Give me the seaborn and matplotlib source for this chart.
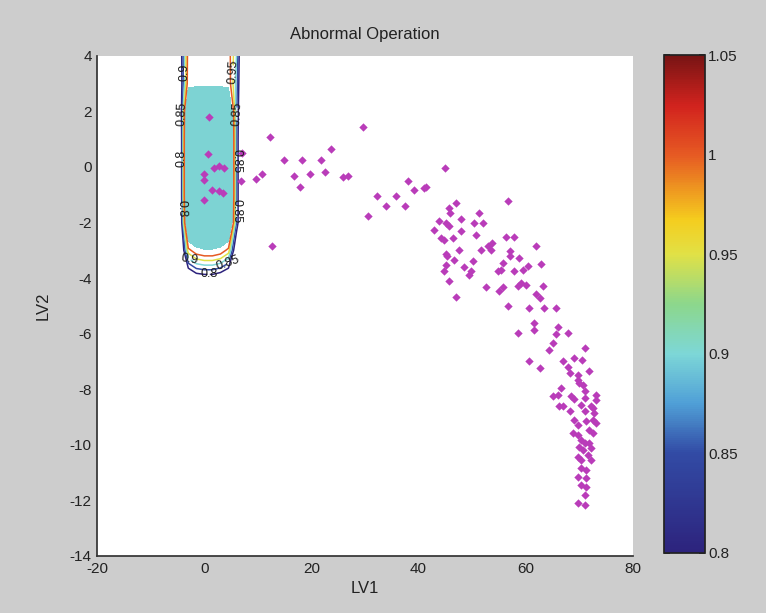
import numpy as np
import pandas as pd
import matplotlib
matplotlib.use("Agg")
import matplotlib.pyplot as plt
import seaborn as sns
from matplotlib.colors import LinearSegmentedColormap, Normalize
from matplotlib.cm import ScalarMappable

# --- data ---
# abnormal operation scores (LV1, LV2)
lv1 = [0.9, 0.6, 1.8, 3.7, 2.7, 0.0, 0.0, 1.5, 2.7, 3.4, 0.0,
       7.1, 6.8, 12.3, 9.6, 10.7, 12.7,
       14.9, 18.3, 16.8, 19.7, 17.9, 21.8, 23.6, 22.5, 25.8, 26.9, 29.7,
       30.5, 32.2, 33.9, 35.8, 37.5, 38.0, 39.1, 41.0, 41.4, 45.0,
       47.0, 56.8, 45.7, 45.9, 51.3, 43.9, 45.1, 47.9, 50.4, 52.0, 45.7, 42.9,
       47.9, 50.7, 44.2, 44.8, 46.4, 56.3, 57.8, 53.8, 61.9, 52.9, 53.5, 51.7,
       47.6, 45.1, 45.4, 57.0, 57.0, 58.8, 46.7, 48.5, 50.1, 45.1, 55.7, 60.4,
       62.9, 49.8, 54.8, 55.4, 57.9, 59.5, 49.5, 44.8, 45.7, 59.1, 58.5, 60.1,
       52.6, 55.7, 55.1, 61.9, 62.6, 47.0, 56.8, 60.7, 63.5,
       63.2, 65.7, 61.6, 61.5, 58.5, 66.0, 65.7, 67.9, 65.1, 64.4, 71.0, 60.7,
       62.7, 66.9, 69.1, 70.5, 67.9, 68.2, 69.7, 69.8, 71.9, 70.7, 66.6, 71.0,
       65.1, 66.0, 68.5, 69.1, 73.2, 73.2, 66.3, 70.4, 72.2,
       70.0, 71.0, 66.9, 68.2, 71.0, 72.5, 72.8, 69.1, 69.7, 71.3, 72.5, 73.2,
       68.8, 69.7, 71.9, 72.5, 70.4, 71.0, 70.0, 70.7, 71.9, 72.2, 69.7, 70.4,
       71.6, 72.2, 70.4, 71.3, 69.7, 71.3, 70.4, 71.3, 71.0, 69.7, 71.0]
lv2 = [1.8, 0.45, -0.05, -0.05, 0.02, -0.25, -0.46, -0.82, -0.88, -0.92, -1.18,
       0.5, -0.52, 1.07, -0.43, -0.25, -2.86,
       0.26, 0.26, -0.32, -0.25, -0.73, 0.26, 0.64, -0.2, -0.37, -0.32, 1.43,
       -1.78, -1.06, -1.42, -1.06, -1.42, -0.52, -0.82, -0.76, -0.73, -0.04,
       -1.28, -1.21, -1.48, -1.66, -1.66, -1.96, -2.02, -1.88, -2.02, -2.02, -2.14, -2.26,
       -2.32, -2.44, -2.56, -2.62, -2.56, -2.53, -2.53, -2.74, -2.84, -2.86, -2.98, -3.0,
       -2.98, -3.13, -3.22, -3.04, -3.22, -3.28, -3.34, -3.61, -3.4, -3.53, -3.46, -3.58,
       -3.48, -3.76, -3.76, -3.70, -3.76, -3.70, -3.88, -3.76, -4.12, -4.18, -4.3, -4.24,
       -4.33, -4.33, -4.48, -4.57, -4.72, -4.69, -5.0, -5.08, -5.08,
       -4.3, -5.08, -5.6, -5.86, -5.96, -5.77, -6.0, -5.98, -6.34, -6.58, -6.52, -7.0,
       -7.24, -6.97, -6.88, -6.94, -7.21, -7.42, -7.48, -7.66, -7.36, -7.84, -7.96, -8.08,
       -8.26, -8.2, -8.26, -8.36, -8.2, -8.38, -8.6, -8.56, -8.62,
       -7.76, -8.32, -8.62, -8.8, -8.8, -8.68, -8.86, -9.1, -9.28, -9.16, -9.1, -9.22,
       -9.58, -9.64, -9.46, -9.58, -9.82, -9.94, -10.06, -10.18, -9.94, -10.12, -10.42, -10.54,
       -10.36, -10.54, -10.84, -10.9, -11.14, -11.2, -11.44, -11.5, -11.8, -12.1, -12.16]

# normal-operation region: coarse grid of contour values
grid_x = [-6, -4.5, -3, -1.5, 0, 1.5, 3, 4.5, 6, 7.5]
grid_y = [-5, -4, -3, -2, -1, 0, 1, 2, 3, 4, 5]
grid_z = [
    [0.60, 0.60, 0.60, 0.60, 0.60, 0.60, 0.60, 0.60, 0.60, 0.60],
    [0.60, 0.62, 0.70, 0.75, 0.76, 0.76, 0.74, 0.70, 0.62, 0.60],
    [0.60, 0.66, 0.98, 1.04, 1.06, 1.06, 1.04, 0.98, 0.70, 0.60],
    [0.60, 0.70, 1.25, 1.30, 1.30, 1.30, 1.30, 1.25, 0.85, 0.60],
    [0.60, 0.70, 1.30, 1.30, 1.30, 1.30, 1.30, 1.30, 0.85, 0.60],
    [0.60, 0.70, 1.30, 1.30, 1.30, 1.30, 1.30, 1.30, 0.85, 0.60],
    [0.60, 0.70, 1.30, 1.30, 1.30, 1.30, 1.30, 1.30, 0.85, 0.60],
    [0.60, 0.72, 1.25, 1.30, 1.30, 1.30, 1.30, 1.25, 0.86, 0.60],
    [0.60, 0.74, 1.04, 1.04, 1.04, 1.04, 1.04, 1.04, 0.88, 0.60],
    [0.60, 0.75, 1.03, 1.03, 1.03, 1.03, 1.03, 1.03, 0.90, 0.60],
    [0.60, 0.75, 1.03, 1.03, 1.03, 1.03, 1.03, 1.03, 0.90, 0.60],
]
contour_levels = [0.8, 0.85, 0.9, 0.95, 1.0]
cbar_ticks = [0.8, 0.85, 0.9, 0.95, 1.0, 1.05]

df = pd.DataFrame({"LV1": lv1, "LV2": lv2})

# washed-out jet, as in the reference colorbar
jet_like = LinearSegmentedColormap.from_list("jet_like", [
    (0.00, "#2d237d"), (0.20, "#324ba5"), (0.30, "#50a0d7"),
    (0.40, "#7dd7d7"), (0.50, "#8cd78c"), (0.60, "#e1e146"),
    (0.67, "#f5cd1e"), (0.80, "#e65a23"), (0.90, "#d2231e"),
    (1.00, "#781414")])
norm = Normalize(vmin=0.8, vmax=1.05)

sns.set_theme(style="white")
plt.rcParams["font.family"] = ["Liberation Sans Narrow", "Liberation Sans", "DejaVu Sans"]
plt.rcParams["axes.unicode_minus"] = False

fig = plt.figure(figsize=(7.66, 6.13), dpi=100, facecolor="#cdcdcd")
ax = fig.add_axes([0.127, 0.093, 0.699, 0.816])
ax.set_facecolor("white")

Z = np.array(grid_z)
ax.contourf(grid_x, grid_y, Z, levels=[1.07, 2.0], colors=["#7dd3d3"], zorder=1)
cs = ax.contour(grid_x, grid_y, Z, levels=contour_levels, cmap=jet_like, norm=norm,
                linewidths=1.1, zorder=2)

# where the contour labels sit
label_spots = [(-3.7, 3.4), (-4.1, 1.9), (5.6, 3.4), (6.0, 1.9),
               (-4.2, 0.3), (-4.3, -1.5), (6.1, 0.2), (6.0, -1.6),
               (-2.8, -3.4), (0.8, -3.9), (4.4, -3.4)]
ax.clabel(cs, fmt="%g", fontsize=9, colors="k", inline=True, inline_spacing=0,
          manual=label_spots)

sns.scatterplot(data=df, x="LV1", y="LV2", ax=ax, marker="D", s=18,
                color="#b93cb9", linewidth=0, zorder=3)

ax.set_xlim(-20, 80)
ax.set_ylim(-14, 4)
ax.set_xticks(range(-20, 81, 20))
ax.set_yticks(range(-14, 5, 2))
ax.tick_params(direction="in", length=4, labelsize=11, colors="#222222", pad=4)
for side in ["top", "right"]:
    ax.spines[side].set_visible(False)
for side in ["left", "bottom"]:
    ax.spines[side].set_color("#333333")
ax.set_xlabel("LV1", fontsize=12, color="#222222")
ax.set_ylabel("LV2", fontsize=12, color="#222222", labelpad=14)
ax.set_title("Abnormal Operation", fontsize=12, color="#222222", pad=12)

cax = fig.add_axes([0.867, 0.098, 0.054, 0.812])
cb = fig.colorbar(ScalarMappable(norm=norm, cmap=jet_like), cax=cax, ticks=cbar_ticks)
cb.ax.set_yticklabels(["%g" % t for t in cbar_ticks])
cb.outline.set_edgecolor("#222222")
cax.tick_params(direction="in", length=4, left=True, right=True, labelsize=11,
                colors="#222222", pad=2)

fig.savefig("out.png", dpi=100, facecolor=fig.get_facecolor())
